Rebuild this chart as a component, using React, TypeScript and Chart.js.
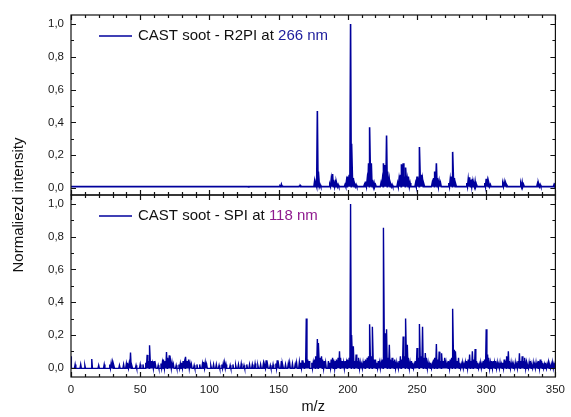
import React, { useEffect, useRef } from 'react';
import { Chart, registerables } from 'chart.js';

Chart.register(...registerables);

// ---- data ----
const xTickValues = [0, 50, 100, 150, 200, 250, 300, 350];
const yTickValues = [0, 0.2, 0.4, 0.6, 0.8, 1.0];
const xMinorStep = 10;
const yMinorValues = [0.1, 0.3, 0.5, 0.7, 0.9];

const r2piLabel = ['CAST soot - R2PI at ', '266 nm'];
const spiLabel = ['CAST soot - SPI at ', '118 nm'];
const yTitle = 'Normaliezd intensity';
const xTitle = 'm/z';

const r2piFloor = 0.008;
const spiFloor = -0.004;

// [m/z, normalized intensity] – R2PI at 266 nm
const r2piPeaks: [number, number][] = [
  [128, 0.006], [139, 0.008], [151, 0.012], [152, 0.022], [153, 0.012],
  [165, 0.012], [166, 0.015],
  [176, 0.04], [177, 0.03], [178, 0.47], [179, 0.10], [180, 0.02],
  [187, 0.02], [188, 0.05], [189, 0.085], [190, 0.05], [191, 0.03], [192, 0.035], [193, 0.02],
  [198, 0.02], [199, 0.04], [200, 0.07], [201, 0.08], [202, 1.0], [203, 0.27], [204, 0.06], [205, 0.03], [206, 0.02],
  [212, 0.02], [213, 0.04], [214, 0.05], [215, 0.15], [216, 0.37], [217, 0.15], [218, 0.05], [219, 0.03], [220, 0.02],
  [224, 0.03], [225, 0.05], [226, 0.15], [227, 0.14], [228, 0.32], [229, 0.10], [230, 0.05], [231, 0.03], [232, 0.02],
  [236, 0.03], [237, 0.05], [238, 0.08], [239, 0.145], [240, 0.15], [241, 0.07], [242, 0.125], [243, 0.05], [244, 0.07], [245, 0.03],
  [249, 0.03], [250, 0.07], [251, 0.06], [252, 0.25], [253, 0.08], [254, 0.05], [255, 0.03],
  [261, 0.03], [262, 0.06], [263, 0.10], [264, 0.15], [265, 0.06], [266, 0.04], [267, 0.03],
  [273, 0.03], [274, 0.05], [275, 0.07], [276, 0.22], [277, 0.06], [278, 0.03],
  [286, 0.03], [287, 0.05], [288, 0.065], [289, 0.05], [290, 0.055], [291, 0.035], [292, 0.04], [293, 0.02],
  [299, 0.03], [300, 0.055], [301, 0.04], [302, 0.035], [303, 0.02],
  [312, 0.025], [313, 0.035], [314, 0.03], [315, 0.02],
  [325, 0.025], [326, 0.035], [327, 0.02],
  [337, 0.025], [338, 0.03], [339, 0.02],
  [349, 0.02], [350, 0.03],
];

// [m/z, normalized intensity] – SPI at 118 nm
const spiPeaks: [number, number][] = [
  [0, 0.07], [3, 0.02], [7, 0.02], [10, 0.015], [15, 0.053], [20, 0.015], [24, 0.02],
  [28, 0.02], [29, 0.028], [30, 0.03], [31, 0.02], [35, 0.015], [38, 0.02],
  [40, 0.025], [41, 0.03], [42, 0.025], [43, 0.092], [44, 0.02], [47, 0.015], [50, 0.02], [52, 0.02],
  [54, 0.03], [55, 0.078], [56, 0.04], [57, 0.137], [58, 0.04], [59, 0.025], [60, 0.04], [61, 0.02],
  [63, 0.015], [65, 0.025], [66, 0.03], [67, 0.05], [68, 0.04], [69, 0.096], [70, 0.06], [71, 0.075],
  [72, 0.035], [73, 0.03], [74, 0.02], [76, 0.015], [78, 0.02], [79, 0.025],
  [80, 0.03], [81, 0.04], [82, 0.03], [83, 0.067], [84, 0.04], [85, 0.05], [86, 0.025], [87, 0.02],
  [89, 0.015], [91, 0.02], [93, 0.02], [95, 0.025], [96, 0.035], [97, 0.03], [98, 0.02],
  [101, 0.015], [103, 0.02], [105, 0.02], [107, 0.015], [109, 0.02], [110, 0.025], [111, 0.03], [112, 0.02],
  [115, 0.015], [117, 0.02], [119, 0.015], [121, 0.02], [123, 0.025], [125, 0.015], [127, 0.02],
  [129, 0.02], [131, 0.02], [133, 0.025], [135, 0.015], [137, 0.02], [139, 0.025], [140, 0.02], [141, 0.045], [142, 0.02],
  [144, 0.015], [146, 0.02], [148, 0.025], [149, 0.045], [150, 0.02], [152, 0.04], [153, 0.025],
  [155, 0.02], [157, 0.025], [158, 0.03], [160, 0.025], [162, 0.02], [163, 0.03], [165, 0.035], [166, 0.03], [167, 0.045], [168, 0.02],
  [169, 0.03], [170, 0.30], [171, 0.05], [172, 0.04], [174, 0.03], [175, 0.03], [176, 0.05], [177, 0.07],
  [178, 0.175], [179, 0.15], [180, 0.06], [181, 0.07], [182, 0.05], [183, 0.04], [184, 0.03],
  [186, 0.04], [187, 0.03], [188, 0.05], [189, 0.06], [190, 0.05], [191, 0.04], [192, 0.05], [193, 0.06],
  [194, 0.10], [195, 0.06], [196, 0.04], [197, 0.03], [198, 0.04], [199, 0.03], [200, 0.05], [201, 0.06],
  [202, 1.0], [203, 0.20], [204, 0.13], [205, 0.04], [206, 0.08], [207, 0.04], [208, 0.06], [209, 0.03],
  [210, 0.02], [211, 0.03], [212, 0.04], [213, 0.05], [214, 0.06], [215, 0.07], [216, 0.265], [217, 0.07],
  [218, 0.25], [219, 0.05], [220, 0.05], [221, 0.03], [222, 0.04], [223, 0.03], [224, 0.03], [225, 0.05],
  [226, 0.855], [227, 0.21], [228, 0.235], [229, 0.06], [230, 0.14], [231, 0.05], [232, 0.06], [233, 0.04],
  [234, 0.05], [235, 0.03], [236, 0.02], [237, 0.04], [238, 0.07], [239, 0.05], [240, 0.19], [241, 0.07],
  [242, 0.30], [243, 0.14], [244, 0.06], [245, 0.03], [246, 0.04], [247, 0.03], [248, 0.02], [249, 0.04],
  [250, 0.12], [251, 0.06], [252, 0.267], [253, 0.07], [254, 0.25], [255, 0.06], [256, 0.09], [257, 0.06],
  [258, 0.03], [259, 0.02], [260, 0.03], [261, 0.02], [262, 0.05], [263, 0.06], [264, 0.145], [265, 0.05],
  [266, 0.098], [267, 0.04], [268, 0.088], [269, 0.04], [270, 0.06], [271, 0.03], [272, 0.02], [273, 0.04],
  [274, 0.05], [275, 0.06], [276, 0.36], [277, 0.11], [278, 0.10], [279, 0.04], [280, 0.06], [281, 0.03],
  [282, 0.02], [283, 0.03], [284, 0.02], [285, 0.03], [286, 0.04], [287, 0.05], [288, 0.08], [289, 0.04],
  [290, 0.10], [291, 0.05], [292, 0.114], [293, 0.04], [294, 0.03], [295, 0.02], [296, 0.03], [297, 0.02],
  [298, 0.04], [299, 0.05], [300, 0.235], [301, 0.08], [302, 0.06], [303, 0.03], [304, 0.04], [305, 0.04],
  [306, 0.03], [307, 0.04], [308, 0.03], [309, 0.02], [310, 0.03], [311, 0.02], [312, 0.03], [313, 0.05],
  [314, 0.04], [315, 0.07], [316, 0.10], [317, 0.04], [318, 0.03], [319, 0.02], [320, 0.02], [321, 0.03],
  [322, 0.02], [323, 0.04], [324, 0.088], [325, 0.04], [326, 0.07], [327, 0.04], [328, 0.06], [329, 0.03],
  [330, 0.02], [331, 0.03], [332, 0.04], [333, 0.02], [334, 0.03], [335, 0.02], [336, 0.03], [337, 0.02],
  [338, 0.04], [339, 0.05], [340, 0.04], [341, 0.03], [342, 0.02], [343, 0.03], [344, 0.02], [345, 0.03],
  [346, 0.02], [347, 0.02], [348, 0.03], [349, 0.02], [350, 0.03],
];

const X_MIN = 0;
const X_MAX = 350;
const LINE_COLOR = '#00009c';
const FONT = '"Liberation Sans", Arial, Helvetica, sans-serif';

function toSeries(peaks: [number, number][], floor: number) {
  const pts: { x: number; y: number }[] = [{ x: X_MIN, y: floor }];
  for (const [m, h] of peaks) {
    pts.push({ x: m - 0.5, y: floor }, { x: m, y: h }, { x: m + 0.5, y: floor });
  }
  pts.push({ x: X_MAX, y: floor });
  return pts
    .filter((p) => p.x >= X_MIN && p.x <= X_MAX)
    .map((p, i) => ({ ...p, i }))
    .sort((a, b) => a.x - b.x || a.i - b.i)
    .map(({ x, y }) => ({ x, y }));
}

const fmt = (v: number) => v.toFixed(1).replace('.', ',');

const framePlugin = {
  id: 'frameAndDecor',
  afterDraw(chart: any) {
    const ctx = chart.ctx as CanvasRenderingContext2D;
    const xs = chart.scales.x;
    const yt = chart.scales.yTop;
    const yb = chart.scales.yBot;
    const L = chart.chartArea.left;
    const R = chart.chartArea.right;
    ctx.save();
    ctx.strokeStyle = '#111';
    ctx.lineWidth = 1.2;
    for (const s of [yt, yb]) {
      ctx.strokeRect(L, s.top, R - L, s.bottom - s.top);
    }
    const major = 5;
    const minor = 3;
    ctx.beginPath();
    const xVals: { v: number; len: number }[] = [];
    for (let v = X_MIN; v <= X_MAX; v += xMinorStep) {
      xVals.push({ v, len: xTickValues.includes(v) ? major : minor });
    }
    for (const { v, len } of xVals) {
      const px = Math.round(xs.getPixelForValue(v)) + 0.5;
      for (const s of [yt, yb]) {
        ctx.moveTo(px, s.top);
        ctx.lineTo(px, s.top + len);
        ctx.moveTo(px, s.bottom);
        ctx.lineTo(px, s.bottom - len);
      }
    }
    for (const s of [yt, yb]) {
      const vals = [
        ...yTickValues.map((v) => ({ v, len: major })),
        ...yMinorValues.map((v) => ({ v, len: minor })),
      ];
      for (const { v, len } of vals) {
        const py = Math.round(s.getPixelForValue(v)) + 0.5;
        ctx.moveTo(L, py);
        ctx.lineTo(L + len, py);
        ctx.moveTo(R, py);
        ctx.lineTo(R - len, py);
      }
    }
    ctx.stroke();

    const drawLegend = (s: any, parts: string[], accent: string) => {
      const ly = s.top + 21;
      ctx.strokeStyle = LINE_COLOR;
      ctx.lineWidth = 1.3;
      ctx.beginPath();
      ctx.moveTo(L + 28, ly);
      ctx.lineTo(L + 61, ly);
      ctx.stroke();
      ctx.font = `15px ${FONT}`;
      ctx.textBaseline = 'middle';
      ctx.textAlign = 'left';
      ctx.fillStyle = '#111';
      const tx = L + 67;
      ctx.fillText(parts[0], tx, ly);
      const w = ctx.measureText(parts[0]).width;
      ctx.fillStyle = accent;
      ctx.fillText(parts[1], tx + w, ly);
    };
    drawLegend(yt, r2piLabel, '#1c1c9c');
    drawLegend(yb, spiLabel, '#8e1a8e');

    ctx.fillStyle = '#111';
    ctx.font = `15px ${FONT}`;
    ctx.textAlign = 'center';
    ctx.textBaseline = 'middle';
    ctx.save();
    ctx.translate(19, (yt.top + yb.bottom) / 2 + 9);
    ctx.rotate(-Math.PI / 2);
    ctx.fillText(yTitle, 0, 0);
    ctx.restore();
    ctx.font = `14.5px ${FONT}`;
    ctx.fillText(xTitle, (L + R) / 2, xs.bottom - 10);
    ctx.restore();
  },
};

const tickFont = { family: FONT, size: 11.5 };

function yScale(min: number, weight: number) {
  return {
    type: 'linear' as const,
    position: 'left' as const,
    stack: 'panels',
    stackWeight: weight,
    min,
    max: 1.055,
    grid: { display: false, drawTicks: false },
    border: { display: false },
    ticks: { padding: 7, font: tickFont, color: '#1a1a1a', callback: (v: any) => fmt(Number(v)) },
    afterBuildTicks: (s: any) => {
      s.ticks = yTickValues.map((v) => ({ value: v }));
    },
    afterFit: (s: any) => {
      s.width = 63;
    },
  };
}

export default function App() {
  const ref = useRef<HTMLCanvasElement>(null);
  useEffect(() => {
    if (!ref.current) return;
    const chart = new Chart(ref.current, {
      type: 'line',
      data: {
        datasets: [
          {
            label: r2piLabel.join(''),
            data: toSeries(r2piPeaks, r2piFloor),
            yAxisID: 'yTop',
            borderColor: LINE_COLOR,
            borderWidth: 1.6,
            pointRadius: 0,
            tension: 0,
            fill: false,
          },
          {
            label: spiLabel.join(''),
            data: toSeries(spiPeaks, spiFloor),
            yAxisID: 'yBot',
            borderColor: LINE_COLOR,
            borderWidth: 1.4,
            pointRadius: 0,
            tension: 0,
            fill: false,
          },
        ],
      },
      options: {
        responsive: false,
        animation: false,
        parsing: false,
        normalized: true,
        layout: { padding: { left: 8, right: 9, top: 15, bottom: 0 } },
        plugins: { legend: { display: false }, tooltip: { enabled: false }, title: { display: false } },
        scales: {
          x: {
            type: 'linear',
            position: 'bottom',
            min: X_MIN,
            max: X_MAX,
            grid: { display: false, drawTicks: false },
            border: { display: false },
            ticks: { padding: 6, font: tickFont, color: '#1a1a1a', maxRotation: 0, callback: (v: any) => String(v) },
            afterBuildTicks: (s: any) => {
              s.ticks = xTickValues.map((v) => ({ value: v }));
            },
            afterFit: (s: any) => {
              s.height = 40;
            },
          },
          yBot: yScale(-0.057, 182),
          yTop: yScale(-0.043, 180),
        },
      } as any,
      plugins: [framePlugin],
    });
    return () => chart.destroy();
  }, []);
  return (
    <div style={{ position: 'absolute', left: 0, top: 0, width: 571, height: 417, background: '#fff' }}>
      <canvas ref={ref} width={571} height={417} style={{ display: 'block' }} />
    </div>
  );
}
